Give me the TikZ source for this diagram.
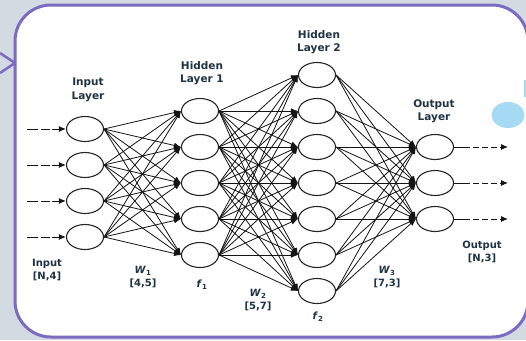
\documentclass[tikz,border=0pt]{standalone}
\usepackage{fontspec}
\setmainfont{DejaVu Sans}
\usetikzlibrary{arrows.meta,shapes.geometric}
\definecolor{bgcol}{HTML}{D3DAE2}
\definecolor{framecol}{HTML}{7A6CC0}
\definecolor{lblcol}{HTML}{1F3344}
\definecolor{dotcol}{HTML}{A6DAF4}
\definecolor{wirecol}{HTML}{141414}

\begin{document}
\begin{tikzpicture}[x=1pt,y=-1pt,
  neuron/.style={draw=black!85, fill=white, ellipse, line width=1.1pt,
                 minimum width=37pt, minimum height=25pt, inner sep=0pt},
  link/.style={wirecol, line width=0.8pt, -{Latex[length=7pt,width=5.5pt]}},
  feed/.style={wirecol, line width=1pt, -{Latex[length=7pt,width=6pt]}},
  lab/.style={font=\bfseries\fontsize{10.5}{13.5}\selectfont, text=lblcol, align=center, inner sep=0pt},
  sublab/.style={font=\bfseries\fontsize{10}{13}\selectfont, text=lblcol, align=center, inner sep=0pt}
]
% canvas
\fill[bgcol] (0,0) rectangle (526,340);
\useasboundingbox (0,0) rectangle (526,340);

% speech-bubble frame
\draw[framecol, line width=2.6pt] (0,53) -- (15,63) -- (0,73);
\draw[framecol, line width=3pt, fill=white, rounded corners=36pt] (15,5) rectangle (528,337);
\fill[dotcol] (508,115) ellipse [x radius=16.5pt, y radius=13pt];
\fill[dotcol] (524,80) rectangle (526,97);

% layers
\foreach \k in {1,...,4} \node[neuron] (i\k) at (85,129+36*\k-36) {};
\foreach \k in {1,...,5} \node[neuron] (h\k) at (200,111+36*\k-36) {};
\foreach \k in {1,...,7} \node[neuron] (g\k) at (317,75+36*\k-36) {};
\foreach \k in {1,...,3} \node[neuron] (o\k) at (435,147+36*\k-36) {};

% weights
\foreach \a in {1,...,4} \foreach \b in {1,...,5} \draw[link] (i\a.east) -- (h\b.west);
\foreach \a in {1,...,5} \foreach \b in {1,...,7} \draw[link] (h\a.east) -- (g\b.west);
\foreach \a in {1,...,7} \foreach \b in {1,...,3} \draw[link] (g\a.east) -- (o\b.west);

% inputs and outputs
\foreach \k in {1,...,4} {
  \coordinate (in\k) at (27,129+36*\k-36);
  \draw[feed, dash pattern=on 11pt off 3pt on 9pt off 2pt on 30pt] (in\k) -- (i\k.west);
}
\foreach \k in {1,...,3} {
  \coordinate (out\k) at (508,147+36*\k-36);
  \draw[feed, dash pattern=on 16pt off 3pt on 6pt off 3pt on 6pt off 3pt on 6pt off 3pt on 30pt] (o\k.east) -- (out\k);
}

% captions
\node[lab] (lin)  at (88,90)  {Input\\Layer};
\node[lab] (lh1)  at (202,73) {Hidden\\Layer 1};
\node[lab] (lh2)  at (319,42) {Hidden\\Layer 2};
\node[lab] (lout) at (434,111) {Output\\Layer};

\node[sublab] (din)  at (47,270)  {Input\\{}[N,4]};
\node[sublab] (w1)   at (143,277) {\textit{W}\textsubscript{1}\\{}[4,5]};
\node[sublab] (f1)   at (202,285) {\textit{f}\textsubscript{1}};
\node[sublab] (w2)   at (258,300) {\textit{W}\textsubscript{2}\\{}[5,7]};
\node[sublab] (f2)   at (318,317) {\textit{f}\textsubscript{2}};
\node[sublab] (w3)   at (387,277) {\textit{W}\textsubscript{3}\\{}[7,3]};
\node[sublab] (dout) at (482,252) {Output\\{}[N,3]};
\end{tikzpicture}
\end{document}
